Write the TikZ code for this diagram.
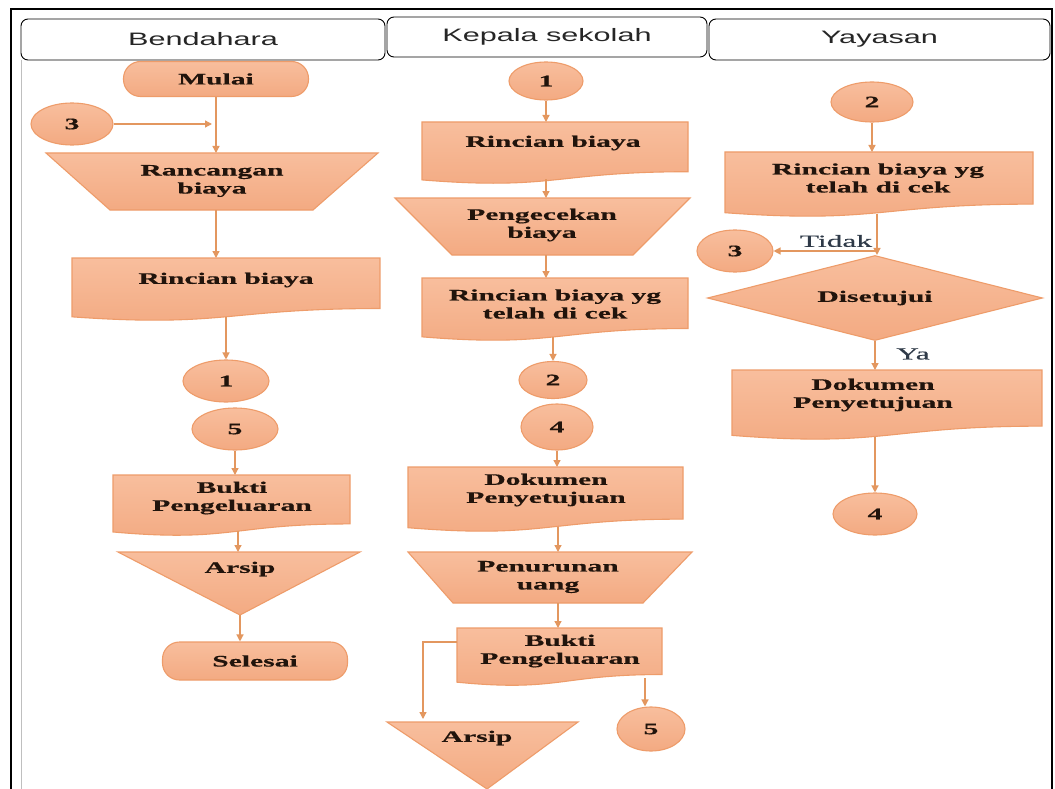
\documentclass[tikz,border=0pt]{standalone}
\usepackage{fontspec}
\usetikzlibrary{shapes.geometric,arrows.meta}
\newfontfamily\shapefont[FakeStretch=1.85,FakeBold=0.5]{Liberation Serif}
\newfontfamily\labfont[FakeStretch=1.85,FakeBold=0.4]{Liberation Serif}
\newfontfamily\headfont[FakeStretch=1.7]{Liberation Sans}
\definecolor{sfillA}{HTML}{F8BE9D}
\definecolor{sfillB}{HTML}{F3AA82}
\definecolor{sline}{HTML}{EE9C6A}
\definecolor{arrc}{HTML}{E3975F}
\definecolor{stext}{HTML}{21140C}
\definecolor{lbl}{HTML}{2F3A48}
\tikzset{
 shp/.style={draw=sline, line width=1.1pt, top color=sfillA, bottom color=sfillB},
 stxt/.style={font=\shapefont\bfseries\fontsize{16}{18}\selectfont, text=stext, align=center, inner sep=0pt},
 conn/.style={ellipse, shp, stxt},
 term/.style={rectangle, rounded corners=17pt, shp, stxt},
 dec/.style={diamond, aspect=3.9, shp, stxt},
 arr/.style={draw=arrc, line width=1.3pt, -{Triangle[length=7pt,width=7pt]}},
 head/.style={draw=black, line width=0.9pt, rounded corners=7pt, font=\headfont\fontsize{18}{21}\selectfont, text=black!85, inner sep=0pt},
 lab/.style={font=\labfont\fontsize{17}{20}\selectfont, text=lbl, inner sep=0pt},
}
\newcommand{\docpath}[4]{\path[shp] (#1,#2) -- ({#1+#3},#2) -- ({#1+#3},{#2+0.802*#4}) .. controls ({#1+0.5*#3},{#2+0.802*#4}) and ({#1+0.5*#3},{#2+1.107*#4}) .. (#1,{#2+0.934*#4}) -- cycle;}
\newcommand{\trappath}[6]{\path[shp] (#3,#1) -- (#4,#1) -- (#6,#2) -- (#5,#2) -- cycle;}
\begin{document}
\begin{tikzpicture}[x=1pt,y=-1pt]
\useasboundingbox (0,0) rectangle (1055,789);
\fill[white] (0,0) rectangle (1055,789);
% frame
\draw[black, line width=1.4pt] (11,789) -- (11,9) -- (1052,9) -- (1052,789);
\draw[black!25, line width=1.6pt] (21.5,60) -- (21.5,789);
% headers
\node[head, minimum width=364pt, minimum height=41pt] (hB) at (203,39.5) {Bendahara};
\node[head, minimum width=320pt, minimum height=40pt] (hK) at (547,37) {Kepala sekolah};
\node[head, minimum width=341pt, minimum height=41pt] (hY) at (879.5,39.5) {Yayasan};

% ===== Bendahara =====
\node[term, minimum width=185pt, minimum height=35pt] (mulai) at (216,79) {Mulai};
\node[conn, minimum width=82pt, minimum height=42pt] (c3L) at (72,124) {3};
\trappath{153}{210}{46}{378}{110}{313}
\node[stxt] (rancangan) at (212,181) {Rancangan\\biaya};
\coordinate (rancLt) at (216,153);
\coordinate (rancLb) at (216,210);
\coordinate (j3) at (212,124);
\docpath{72}{258}{308}{63}
\node[stxt] (rincL) at (226,280) {Rincian biaya};
\coordinate (rincLt) at (216,258);
\coordinate (rincLb) at (226,317);
\node[conn, minimum width=86pt, minimum height=42pt] (c1L) at (226,381) {1};
\node[conn, minimum width=86pt, minimum height=42pt] (c5L) at (235,429) {5};
\docpath{113}{475}{237}{61}
\node[stxt] (buktiL) at (232,498) {Bukti\\Pengeluaran};
\coordinate (buktiLt) at (235,475);
\coordinate (buktiLb) at (238,531);
\path[shp] (118,552) -- (360,552) -- (240,615) -- cycle;
\node[stxt] (arsipL) at (240,569) {Arsip};
\coordinate (arsipLt) at (238,552);
\coordinate (arsipLb) at (240,615);
\node[term, minimum width=185pt, minimum height=38pt] (selesai) at (255,661) {Selesai};

\draw[arr] (mulai.south) -- (rancLt);
\draw[arr] (c3L.east) -- (j3);
\draw[arr] (rancLb) -- (rincLt);
\draw[arr] (rincLb) -- (c1L.north);
\draw[arr] (c5L.south) -- (buktiLt);
\draw[arr] (buktiLb) -- (arsipLt);
\draw[arr] (arsipLb) -- (arsipLb |- selesai.north);

% ===== Kepala sekolah =====
\node[conn, minimum width=74pt, minimum height=38pt] (c1M) at (546,81) {1};
\docpath{422}{122}{266}{62}
\node[stxt] (rincM) at (553,143) {Rincian biaya};
\coordinate (rincMt) at (546,122);
\coordinate (rincMb) at (546,179);
\trappath{198}{255}{395}{690}{452}{633}
\node[stxt] (cekM) at (542,225) {Pengecekan\\biaya};
\coordinate (cekMt) at (546,198);
\coordinate (cekMb) at (546,255);
\docpath{422}{278}{266}{63}
\node[stxt] (rcM) at (555,304) {Rincian biaya yg\\telah di cek};
\coordinate (rcMt) at (546,278);
\coordinate (rcMb) at (553,337);
\node[conn, minimum width=68pt, minimum height=37pt] (c2M) at (553,380) {2};
\node[conn, minimum width=72pt, minimum height=46pt] (c4M) at (557,427) {4};
\docpath{408}{467}{275}{65}
\node[stxt] (dokM) at (546,490) {Dokumen\\Penyetujuan};
\coordinate (dokMt) at (557,467);
\coordinate (dokMb) at (558,527);
\trappath{552}{603}{408}{692}{453}{643}
\node[stxt] (turunM) at (548,577) {Penurunan\\uang};
\coordinate (turunMt) at (558,552);
\coordinate (turunMb) at (558,603);
\docpath{457}{628}{205}{58}
\node[stxt] (buktiM) at (560,651) {Bukti\\Pengeluaran};
\coordinate (buktiMt) at (558,628);
\coordinate (bmL) at (457,642);
\coordinate (bmR) at (645,678);
\node[conn, minimum width=68pt, minimum height=44pt] (c5M) at (651,729) {5};
\path[shp] (387,722) -- (578,722) -- (487,789) -- cycle;
\node[stxt] (arsipM) at (477,738) {Arsip};
\coordinate (arsipMt) at (423,719);

\draw[arr] (c1M.south) -- (rincMt);
\draw[arr] (rincMb) -- (cekMt);
\draw[arr] (cekMb) -- (rcMt);
\draw[arr] (rcMb) -- (c2M.north);
\draw[arr] (c4M.south) -- (dokMt);
\draw[arr] (dokMb) -- (turunMt);
\draw[arr] (turunMb) -- (buktiMt);
\draw[arr] (bmL) -| (arsipMt);
\draw[arr] (bmR) -- (bmR |- c5M.north);

% ===== Yayasan =====
\node[conn, minimum width=82pt, minimum height=40pt] (c2R) at (872,102) {2};
\docpath{725}{152}{308}{65}
\node[stxt] (rcR) at (878,178) {Rincian biaya yg\\telah di cek};
\coordinate (rcRt) at (872,152);
\coordinate (rcRb) at (877,214);
\node[dec, minimum width=335pt, minimum height=85pt] (dis) at (875,298) {Disetujui};
\coordinate (tj) at (877,251);
\node[conn, minimum width=76pt, minimum height=42pt] (c3R) at (735,251) {3};
\node[lab] (tidak) at (836,241) {Tidak};
\docpath{732}{370}{310}{70}
\node[stxt] (dokR) at (873,395) {Dokumen\\Penyetujuan};
\coordinate (dokRt) at (875,370);
\coordinate (dokRb) at (875,437);
\node[lab] (ya) at (913,354) {Ya};
\node[conn, minimum width=84pt, minimum height=42pt] (c4R) at (875,514) {4};

\draw[arr] (c2R.south) -- (rcRt);
\draw[arr] (rcRb) -- (rcRb |- dis.north);
\draw[arr] (tj) -- (c3R.east);
\draw[arr] (dis.south) -- (dokRt);
\draw[arr] (dokRb) -- (c4R.north);
\end{tikzpicture}
\end{document}
